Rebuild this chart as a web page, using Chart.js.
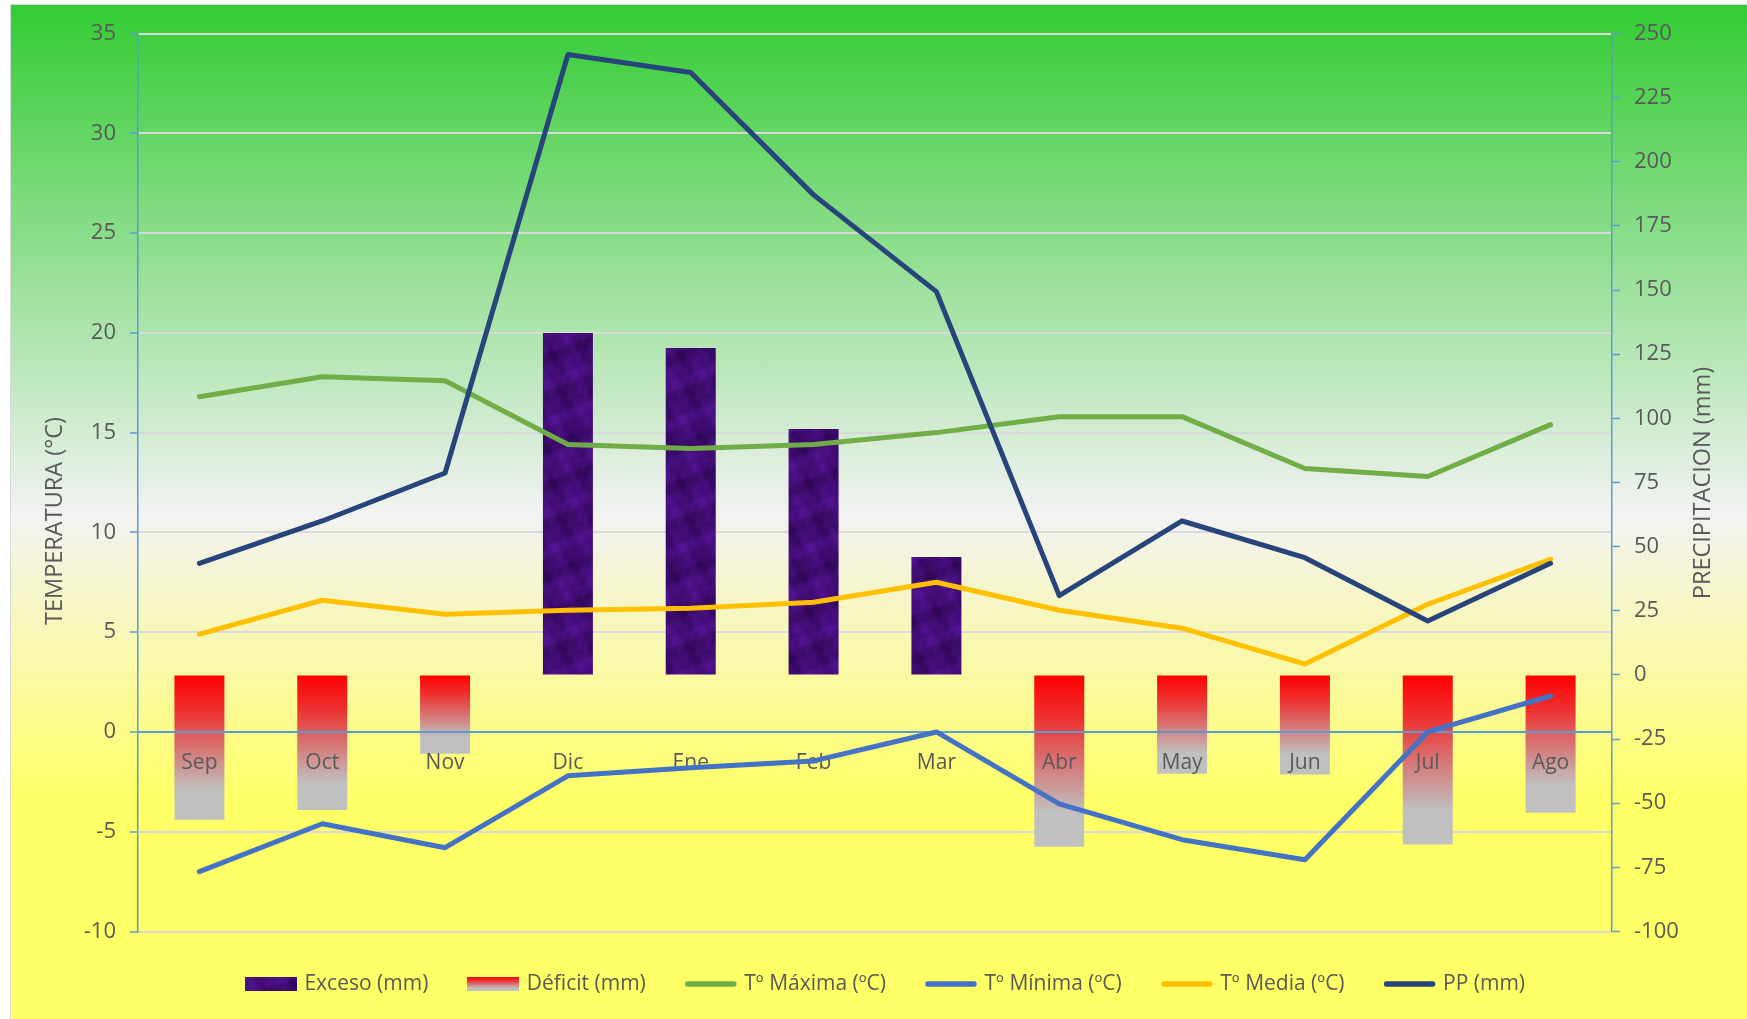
<!DOCTYPE html>
<html>
<head>
<meta charset="utf-8">
<script src="https://cdn.jsdelivr.net/npm/chart.js@4"></script>
<style>
  html, body { margin: 0; padding: 0; background: #ffffff; overflow: hidden; }
  #frame {
    position: absolute; left: 10px; top: 4px; width: 1760px; height: 1030px;
    border: 1px solid #d9d9d9; box-sizing: border-box;
    background: linear-gradient(to bottom, #33cc33 0px, #f2f2f2 510px, #ffff66 795px, #ffff66 100%);
  }
  #climograma { position: absolute; left: 0; top: 0; }
</style>
</head>
<body>
<div id="frame"></div>
<canvas id="climograma" width="1747" height="1019"></canvas>
<script>
const meses = ["Sep", "Oct", "Nov", "Dic", "Ene", "Feb", "Mar", "Abr", "May", "Jun", "Jul", "Ago"];
const exceso = [null, null, null, 133.3, 127.4, 95.9, 46, null, null, null, null, null];
const deficit = [-56.4, -52.6, -30.7, null, null, null, null, -67, -38.5, -38.8, -66.1, -53.7];
const tMaxima = [16.8, 17.8, 17.6, 14.4, 14.2, 14.4, 15.0, 15.8, 15.8, 13.2, 12.8, 15.4];
const tMinima = [-7.0, -4.6, -5.8, -2.2, -1.8, -1.45, 0.0, -3.6, -5.4, -6.4, 0.0, 1.8];
const tMedia = [4.9, 6.6, 5.9, 6.1, 6.2, 6.5, 7.5, 6.1, 5.2, 3.4, 6.4, 8.65];
const pp = [43.5, 60, 78.7, 241.8, 234.8, 187.1, 149.4, 30.9, 60, 45.7, 21, 43.5];

const tempTicks = { min: -10, max: 35, step: 5 };
const ppTicks = { min: -100, max: 250, step: 25 };

const textColor = "#595959";
const axisBlue = "#5b9bd5";
const fontFamily = "'Open Sans', 'Noto Sans', sans-serif";

// purple mottled fill used by the "Exceso" bars
function makeTexture() {
  const size = 128;
  const c = document.createElement("canvas");
  c.width = size;
  c.height = size;
  const g = c.getContext("2d");
  const img = g.createImageData(size, size);
  const w = (k) => (2 * Math.PI * k) / size;
  for (let y = 0; y < size; y++) {
    for (let x = 0; x < size; x++) {
      const a =
        Math.sin(w(1) * x + w(3) * y + 0.5) +
        0.8 * Math.sin(w(4) * x - w(1) * y + 1.3) +
        0.5 * Math.sin(w(3) * x + w(7) * y + 2.1) +
        0.4 * Math.sin(w(8) * x - w(5) * y + 0.4) +
        0.25 * Math.sin(w(15) * x + w(4) * y + 1.9) +
        0.2 * Math.sin(w(6) * x + w(17) * y + 0.2);
      const t = Math.min(1, Math.max(0, (a + 2.6) / 5.2));
      const i = (y * size + x) * 4;
      img.data[i] = 46 + t * 38;
      img.data[i + 1] = 7 + t * 12;
      img.data[i + 2] = 86 + t * 62;
      img.data[i + 3] = 255;
    }
  }
  g.putImageData(img, 0, 0);
  return c;
}

const texture = makeTexture();
const chartCanvas = document.getElementById("climograma");
const mainCtx = chartCanvas.getContext("2d");
const excesoPattern = mainCtx.createPattern(texture, "repeat");

function deficitStops(grad) {
  grad.addColorStop(0, "#ff0000");
  grad.addColorStop(0.25, "#ee3030");
  grad.addColorStop(0.5, "#d87272");
  grad.addColorStop(0.8, "#c0c0c0");
  grad.addColorStop(1, "#c0c0c0");
  return grad;
}

// legend swatches for the two bar series
function makeSwatch(fill) {
  const c = document.createElement("canvas");
  c.width = 52;
  c.height = 14;
  const g = c.getContext("2d");
  if (fill === "pattern") {
    g.fillStyle = g.createPattern(texture, "repeat");
  } else {
    g.fillStyle = deficitStops(g.createLinearGradient(0, 0, 0, 14));
  }
  g.fillRect(0, 0, 52, 14);
  return c;
}
const swatches = { 0: makeSwatch("pattern"), 1: makeSwatch("gradient") };

// month labels and the blue category axis at 0 ºC, drawn under the lines
const categoryAxis = {
  id: "categoryAxis",
  beforeDatasetDraw(chart, args) {
    if (args.index !== 2) return;
    const { ctx, chartArea, scales } = chart;
    const y0 = scales.y.getPixelForValue(0);
    ctx.save();
    ctx.strokeStyle = axisBlue;
    ctx.lineWidth = 2;
    ctx.beginPath();
    ctx.moveTo(chartArea.left, y0);
    ctx.lineTo(chartArea.right, y0);
    ctx.stroke();
    ctx.fillStyle = textColor;
    ctx.font = "21px " + fontFamily;
    ctx.textAlign = "center";
    ctx.textBaseline = "middle";
    meses.forEach((m, i) => {
      ctx.fillText(m, scales.x.getPixelForValue(i), y0 + 31);
    });
    ctx.restore();
  },
};

const axisTitles = {
  id: "axisTitles",
  afterDraw(chart) {
    const { ctx } = chart;
    ctx.save();
    ctx.fillStyle = textColor;
    ctx.font = "23.5px " + fontFamily;
    ctx.textAlign = "center";
    ctx.textBaseline = "middle";
    [["TEMPERATURA (°C)", 55, 521], ["PRECIPITACION (mm)", 1703, 483]].forEach(([t, x, y]) => {
      ctx.save();
      ctx.translate(x, y);
      ctx.rotate(-Math.PI / 2);
      ctx.fillText(t, 0, 0);
      ctx.restore();
    });
    ctx.restore();
  },
};

const lineDefaults = {
  type: "line",
  yAxisID: "y",
  borderWidth: 5,
  pointRadius: 0,
  tension: 0,
  borderJoinStyle: "round",
  borderCapStyle: "round",
  fill: false,
};

new Chart(mainCtx, {
  data: {
    labels: meses,
    datasets: [
      {
        type: "bar",
        label: "Exceso (mm)",
        data: exceso,
        yAxisID: "y1",
        backgroundColor: excesoPattern,
        barPercentage: 0.407,
        categoryPercentage: 1,
        order: 10,
      },
      {
        type: "bar",
        label: "Déficit (mm)",
        data: deficit,
        yAxisID: "y1",
        backgroundColor: (context) => {
          const { chart, raw } = context;
          if (!chart.chartArea || raw == null) return "#ff0000";
          const s = chart.scales.y1;
          const grad = chart.ctx.createLinearGradient(0, s.getPixelForValue(0), 0, s.getPixelForValue(raw));
          return deficitStops(grad);
        },
        barPercentage: 0.407,
        categoryPercentage: 1,
        order: 10,
      },
      { ...lineDefaults, label: "Tº Máxima (ºC)", data: tMaxima, borderColor: "#70ad47", backgroundColor: "#70ad47", order: 4 },
      { ...lineDefaults, label: "Tº Mínima (ºC)", data: tMinima, borderColor: "#4472c4", backgroundColor: "#4472c4", order: 3 },
      { ...lineDefaults, label: "Tº Media (ºC)", data: tMedia, borderColor: "#ffc000", backgroundColor: "#ffc000", order: 2 },
      { ...lineDefaults, label: "PP (mm)", data: pp, yAxisID: "y1", borderColor: "#27457a", backgroundColor: "#27457a", order: 1 },
    ],
  },
  options: {
    responsive: false,
    animation: false,
    events: [],
    layout: { padding: { left: 26, right: 0, top: 33.5, bottom: 14.5 } },
    plugins: {
      tooltip: { enabled: false },
      legend: {
        position: "bottom",
        labels: {
          color: textColor,
          font: { family: fontFamily, size: 21 },
          padding: 42,
          usePointStyle: true,
          pointStyleWidth: 46,
          sort: (a, b) => a.datasetIndex - b.datasetIndex,
          generateLabels(chart) {
            const items = Chart.defaults.plugins.legend.labels.generateLabels(chart);
            items.forEach((item) => {
              const ds = chart.data.datasets[item.datasetIndex];
              if (ds.type === "bar") {
                item.pointStyle = swatches[item.datasetIndex];
              } else {
                item.pointStyle = "line";
                item.strokeStyle = ds.borderColor;
                item.fillStyle = ds.borderColor;
                item.lineWidth = 5.5;
                item.lineCap = "round";
              }
            });
            return items;
          },
        },
      },
    },
    scales: {
      x: {
        display: false,
        stacked: true,
        offset: true,
      },
      y: {
        position: "left",
        min: tempTicks.min,
        max: tempTicks.max,
        afterFit: (scale) => { scale.width = 112; },
        ticks: {
          stepSize: tempTicks.step,
          color: textColor,
          font: { family: fontFamily, size: 22 },
          padding: 14,
        },
        grid: {
          color: "#d9d9d9",
          lineWidth: 2,
          tickColor: axisBlue,
          tickLength: 8,
          tickWidth: 1.5,
        },
        border: { color: axisBlue, width: 1.5 },
      },
      y1: {
        position: "right",
        min: ppTicks.min,
        max: ppTicks.max,
        afterFit: (scale) => { scale.width = 135; },
        ticks: {
          stepSize: ppTicks.step,
          color: textColor,
          font: { family: fontFamily, size: 22 },
          padding: 14,
        },
        grid: {
          drawOnChartArea: false,
          tickColor: axisBlue,
          tickLength: 8,
          tickWidth: 1.5,
        },
        border: { color: axisBlue, width: 1.5 },
      },
    },
  },
  plugins: [categoryAxis, axisTitles],
});
</script>
</body>
</html>
